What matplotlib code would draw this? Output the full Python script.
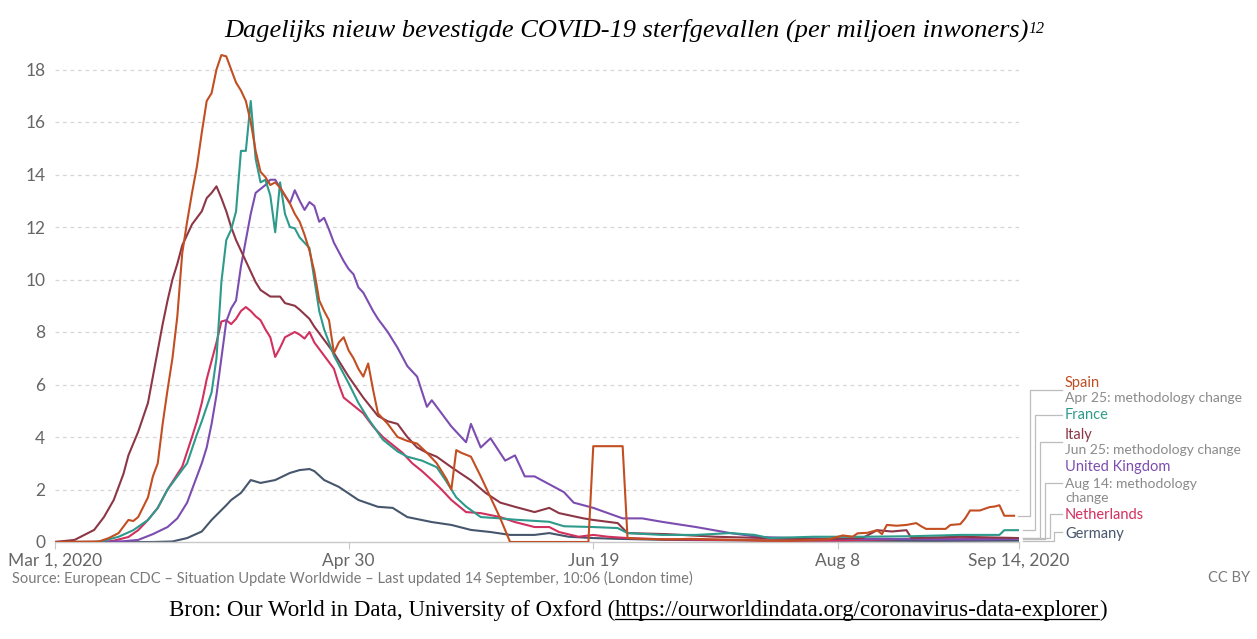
import matplotlib
matplotlib.use('Agg')
import matplotlib.pyplot as plt
import matplotlib.dates as mdates
import numpy as np
from matplotlib.lines import Line2D

# ---------------- data (days since 2020-03-01, deaths per million) -------------
spain_days = [0, 9, 11, 13, 15, 16, 17, 19, 20, 21, 22, 23, 24, 25, 26, 27, 28, 29, 30, 31, 32, 33, 34, 35,
              36, 37, 38, 39, 40, 41, 42, 43, 44, 45, 46, 47, 48, 49, 50, 51, 52, 53, 54, 55, 56, 57, 58,
              59, 60, 61, 62, 63, 64, 65, 66, 67, 68, 70, 72, 74, 76, 78, 80, 81, 82, 83, 85, 87, 89, 91,
              93, 108, 109, 110, 116, 117, 120, 125, 130, 135, 140, 145, 150, 155, 158, 160, 161, 163,
              164, 166, 168, 169, 170, 172, 174, 176, 177, 178, 182, 183, 185, 186, 187, 189, 191, 192,
              193, 194, 196]
spain_vals = [0, 0.02, 0.15, 0.34, 0.84, 0.8, 0.95, 1.7, 2.5, 3.0, 4.5, 5.8, 7.0, 8.6, 11.0, 12.2, 13.3,
              14.3, 15.6, 16.8, 17.1, 18.0, 18.55, 18.5, 18.0, 17.5, 17.2, 16.8, 16.0, 14.9, 14.1, 13.9,
              13.6, 13.7, 13.5, 13.2, 12.9, 12.5, 12.2, 11.7, 11.1, 10.3, 9.2, 8.8, 8.45, 7.2, 7.6, 7.8,
              7.3, 7.0, 6.6, 6.3, 6.8, 5.8, 4.9, 4.7, 4.5, 4.0, 3.85, 3.75, 3.4, 3.0, 2.4, 2.0, 3.5, 3.4,
              3.25, 2.5, 1.7, 0.9, 0.0, 0.0, 0.0, 3.65, 3.65, 0.15, 0.12, 0.1, 0.12, 0.1, 0.08, 0.05,
              0.05, 0.08, 0.1, 0.2, 0.25, 0.2, 0.33, 0.35, 0.45, 0.3, 0.65, 0.62, 0.65, 0.72, 0.6, 0.5,
              0.5, 0.65, 0.68, 0.9, 1.2, 1.2, 1.33, 1.35, 1.4, 1.0, 1.0]

france_days = [0, 8, 10, 13, 16, 19, 21, 23, 25, 27, 29, 30, 32, 33, 34, 35, 36, 37, 38, 39, 40, 41, 42,
               43, 44, 45, 46, 47, 48, 49, 50, 51, 52, 53, 54, 55, 57, 60, 62, 64, 67, 70, 72, 75, 78,
               80, 82, 84, 87, 91, 94, 101, 104, 110, 115, 117, 124, 131, 138, 143, 146, 155, 165, 175,
               185, 193, 194, 197]
france_vals = [0, 0, 0.05, 0.2, 0.45, 0.84, 1.3, 2.0, 2.5, 3.0, 4.1, 4.6, 5.7, 7.0, 9.9, 11.5, 11.9,
               12.6, 14.9, 14.9, 16.8, 14.6, 13.7, 13.8, 13.2, 11.8, 13.7, 12.5, 12.0, 11.95, 11.6, 11.4,
               11.2, 10.0, 8.8, 8.1, 7.1, 6.05, 5.3, 4.7, 3.9, 3.45, 3.25, 3.1, 2.85, 2.3, 1.7, 1.35,
               0.95, 0.9, 0.85, 0.77, 0.6, 0.57, 0.53, 0.34, 0.27, 0.27, 0.34, 0.27, 0.15, 0.2, 0.2,
               0.22, 0.27, 0.27, 0.45, 0.45]

italy_days = [0, 4, 6, 8, 10, 12, 14, 15, 17, 19, 20, 21, 22, 23, 24, 25, 26, 28, 30, 31, 32, 33, 34, 35,
              36, 37, 38, 40, 41, 42, 44, 46, 47, 49, 50, 52, 53, 55, 57, 60, 63, 66, 68, 70, 72, 74, 76,
              78, 81, 85, 88, 91, 94, 98, 101, 103, 108, 110, 115, 117, 125, 135, 145, 155, 165, 168,
              171, 174, 175, 185, 197]
italy_vals = [0, 0.08, 0.27, 0.46, 0.95, 1.6, 2.6, 3.3, 4.2, 5.3, 6.3, 7.3, 8.3, 9.2, 10.0, 10.6, 11.3,
              12.1, 12.6, 13.1, 13.3, 13.55, 13.1, 12.6, 12.0, 11.5, 11.1, 10.3, 9.9, 9.6, 9.35, 9.35,
              9.1, 9.0, 8.85, 8.5, 8.2, 7.7, 7.2, 6.3, 5.5, 4.8, 4.6, 4.5, 4.0, 3.6, 3.4, 3.25, 2.85,
              2.35, 1.87, 1.5, 1.34, 1.14, 1.3, 1.1, 0.9, 0.84, 0.72, 0.34, 0.3, 0.2, 0.15, 0.1, 0.15,
              0.45, 0.4, 0.45, 0.15, 0.2, 0.15]

uk_days = [0, 10, 14, 17, 20, 23, 25, 27, 28, 30, 31, 32, 33, 34, 35, 36, 37, 38, 39, 40, 41, 42, 43, 44,
           45, 46, 47, 48, 49, 50, 51, 52, 53, 54, 55, 56, 57, 59, 60, 61, 62, 63, 65, 66, 68, 70, 72, 74,
           76, 77, 79, 81, 83, 84, 85, 87, 89, 92, 94, 96, 98, 101, 104, 106, 110, 113, 116, 120, 124,
           131, 138, 144, 151, 160, 170, 180, 190, 197]
uk_vals = [0, 0, 0.03, 0.08, 0.3, 0.57, 0.9, 1.5, 2.0, 3.0, 3.6, 4.5, 5.6, 7.0, 8.4, 8.9, 9.2, 10.5, 11.5,
           12.5, 13.3, 13.45, 13.6, 13.8, 13.8, 13.5, 13.2, 12.9, 13.4, 13.0, 12.65, 12.95, 12.8, 12.2,
           12.35, 11.9, 11.4, 10.7, 10.4, 10.2, 9.7, 9.5, 8.8, 8.5, 8.0, 7.4, 6.7, 6.3, 5.15, 5.4, 4.9,
           4.4, 4.0, 3.8, 4.5, 3.6, 3.95, 3.1, 3.3, 2.5, 2.5, 2.2, 1.9, 1.5, 1.3, 1.1, 0.9, 0.9, 0.77,
           0.57, 0.34, 0.19, 0.15, 0.12, 0.12, 0.1, 0.1, 0.12]

nl_days = [0, 10, 12, 15, 17, 19, 21, 23, 26, 28, 29, 30, 31, 32, 33, 34, 35, 36, 37, 38, 39, 40, 41, 42,
           43, 44, 45, 46, 47, 48, 49, 50, 51, 52, 53, 55, 57, 58, 59, 60, 63, 65, 67, 69, 71, 73, 75,
           77, 79, 81, 84, 87, 91, 94, 98, 101, 103, 107, 110, 113, 117, 125, 135, 150, 160, 170, 180,
           190, 197]
nl_vals = [0, 0, 0.05, 0.19, 0.45, 0.84, 1.3, 2.0, 2.87, 4.0, 4.6, 5.3, 6.2, 6.9, 7.6, 8.4, 8.45, 8.3,
           8.5, 8.8, 8.95, 8.8, 8.6, 8.45, 8.1, 7.8, 7.05, 7.4, 7.8, 7.9, 8.0, 7.9, 7.75, 8.0, 7.6, 7.1,
           6.6, 6.0, 5.5, 5.35, 4.9, 4.4, 4.0, 3.7, 3.4, 3.0, 2.7, 2.36, 2.0, 1.6, 1.14, 1.1, 0.95,
           0.76, 0.57, 0.57, 0.38, 0.2, 0.27, 0.2, 0.15, 0.1, 0.08, 0.05, 0.06, 0.1, 0.15, 0.12, 0.15]

de_days = [0, 20, 24, 27, 30, 32, 35, 36, 38, 40, 42, 45, 48, 50, 52, 53, 55, 58, 62, 66, 69, 72, 77, 81,
           85, 89, 93, 98, 101, 105, 110, 115, 125, 140, 160, 180, 197]
de_vals = [0, 0, 0.02, 0.15, 0.4, 0.84, 1.4, 1.6, 1.87, 2.36, 2.25, 2.36, 2.63, 2.74, 2.78, 2.7, 2.36,
           2.1, 1.6, 1.34, 1.3, 0.95, 0.76, 0.65, 0.46, 0.38, 0.27, 0.27, 0.34, 0.2, 0.15, 0.12, 0.08,
           0.06, 0.05, 0.04, 0.05]

tick_dates = ['2020-03-01', '2020-04-30', '2020-06-19', '2020-08-08', '2020-09-14']
tick_labels = ['Mar 1, 2020', 'Apr 30', 'Jun 19', 'Aug 8', 'Sep 14, 2020']
y_ticks = [0, 2, 4, 6, 8, 10, 12, 14, 16, 18]

names = ['Spain', 'France', 'Italy', 'United Kingdom', 'Netherlands', 'Germany']
notes = ['Apr 25: methodology change', None, 'Jun 25: methodology change',
         'Aug 14: methodology\nchange', None, None]
colors = ['#C24E22', '#2E9A8C', '#8D3646', '#7C4DB0', '#D2305F', '#46566C']

series = [(spain_days, spain_vals), (france_days, france_vals), (italy_days, italy_vals),
          (uk_days, uk_vals), (nl_days, nl_vals), (de_days, de_vals)]

# ---------------- layout -------------
W, H = 1257, 639
fig = plt.figure(figsize=(W / 100, H / 100), dpi=100)


def fx(px):
    return px / W


def fy(py):
    return 1 - py / H


ax = fig.add_axes([fx(55), fy(542), (1019 - 55) / W, (542 - 43.25) / H])
start = np.datetime64('2020-03-01')


def to_dates(days):
    return start + np.array(days).astype('timedelta64[D]')


for yv in y_ticks[1:]:
    ax.axhline(yv, color='#d6d6d6', lw=0.9, dashes=(3, 3), zorder=0)

draw_order = [5, 4, 3, 2, 1, 0]
for i in draw_order:
    d, v = series[i]
    ax.plot(to_dates(d), v, color=colors[i], lw=1.5, solid_joinstyle='round', zorder=2 + (5 - i))

ax.set_xlim(np.datetime64('2020-03-01'), np.datetime64('2020-09-14'))
ax.set_ylim(0, 19)
ax.set_yticks(y_ticks)
ax.set_yticklabels([str(t) for t in y_ticks])
ax.set_xticks([np.datetime64(t) for t in tick_dates])
ax.set_xticklabels(tick_labels)
for s in ['top', 'right', 'left']:
    ax.spines[s].set_visible(False)
ax.spines['bottom'].set_color('#c8c8c8')
ax.spines['bottom'].set_linewidth(1.0)
ax.tick_params(axis='y', length=0, pad=7, labelsize=12.5, labelcolor='#666666')
ax.tick_params(axis='x', length=5, color='#c8c8c8', pad=3, labelsize=12.5, labelcolor='#666666')
for lab in ax.get_xticklabels() + ax.get_yticklabels():
    lab.set_fontfamily('Lato')

# ---------------- labels / connectors -------------
label_y = [383, 415, 435, 467, 515, 534]
note_y = [398, None, 450, 491, None, None]
conn_y = [390, 415, 442, 483, 514, 532]
conn_x = [1030, 1035, 1040, 1045, 1050, 1054]
inv = fig.transFigure.inverted()
for i, (d, v) in enumerate(series):
    end = ax.transData.transform((mdates.date2num(to_dates([d[-1]])[0]), v[-1]))
    ex, ey = inv.transform(end)
    xs = [ex + fx(4), fx(conn_x[i]), fx(conn_x[i]), fx(1062)]
    ys = [ey, ey, fy(conn_y[i]), fy(conn_y[i])]
    fig.add_artist(Line2D(xs, ys, color='#bdbdbd', lw=0.9, transform=fig.transFigure))
    fig.text(fx(1065), fy(label_y[i]), names[i], color=colors[i], family='Lato', size=10.5,
             va='center', ha='left')
    if notes[i]:
        fig.text(fx(1065), fy(note_y[i]), notes[i], color='#8a8a8a', family='Lato', size=10,
                 va='center', ha='left', linespacing=1.1)

# ---------------- titles / footers -------------
renderer = fig.canvas.get_renderer()
title = fig.text(fx(626), fy(30), 'Dagelijks nieuw bevestigde COVID-19 sterfgevallen (per miljoen inwoners)',
                 ha='center', va='center', family='Liberation Serif', style='italic', size=19)
bb = title.get_window_extent(renderer)
fig.text((bb.x1 + 0.5) / W, (bb.y1 - 3) / H, '12', ha='left', va='top',
         family='Liberation Serif', style='italic', size=11.5)

fig.text(fx(12), fy(578), 'Source: European CDC \u2013 Situation Update Worldwide \u2013 Last updated 14 September, 10:06 (London time)',
         ha='left', va='center', family='Lato', size=10.55, color='#7a7a7a')
fig.text(fx(1250), fy(578), 'CC BY', ha='right', va='center', family='Lato', size=10.55, color='#7a7a7a')

parts = ['Bron: Our World in Data, University of Oxford (', 'https://ourworldindata.org/coronavirus-data-explorer', ')']
texts = [fig.text(0, fy(616), p, ha='left', va='baseline', family='Liberation Serif', size=16.5, color='black')
         for p in parts]
widths = [t.get_window_extent(renderer).width for t in texts]
x0 = 638 - sum(widths) / 2
xc = x0
for t, w in zip(texts, widths):
    t.set_x(xc / W)
    xc += w
ux0 = x0 + widths[0]
ux1 = ux0 + widths[1]
fig.add_artist(Line2D([ux0 / W, ux1 / W], [fy(619), fy(619)], color='black', lw=0.9,
                      transform=fig.transFigure))

fig.savefig('out.png', dpi=100)
